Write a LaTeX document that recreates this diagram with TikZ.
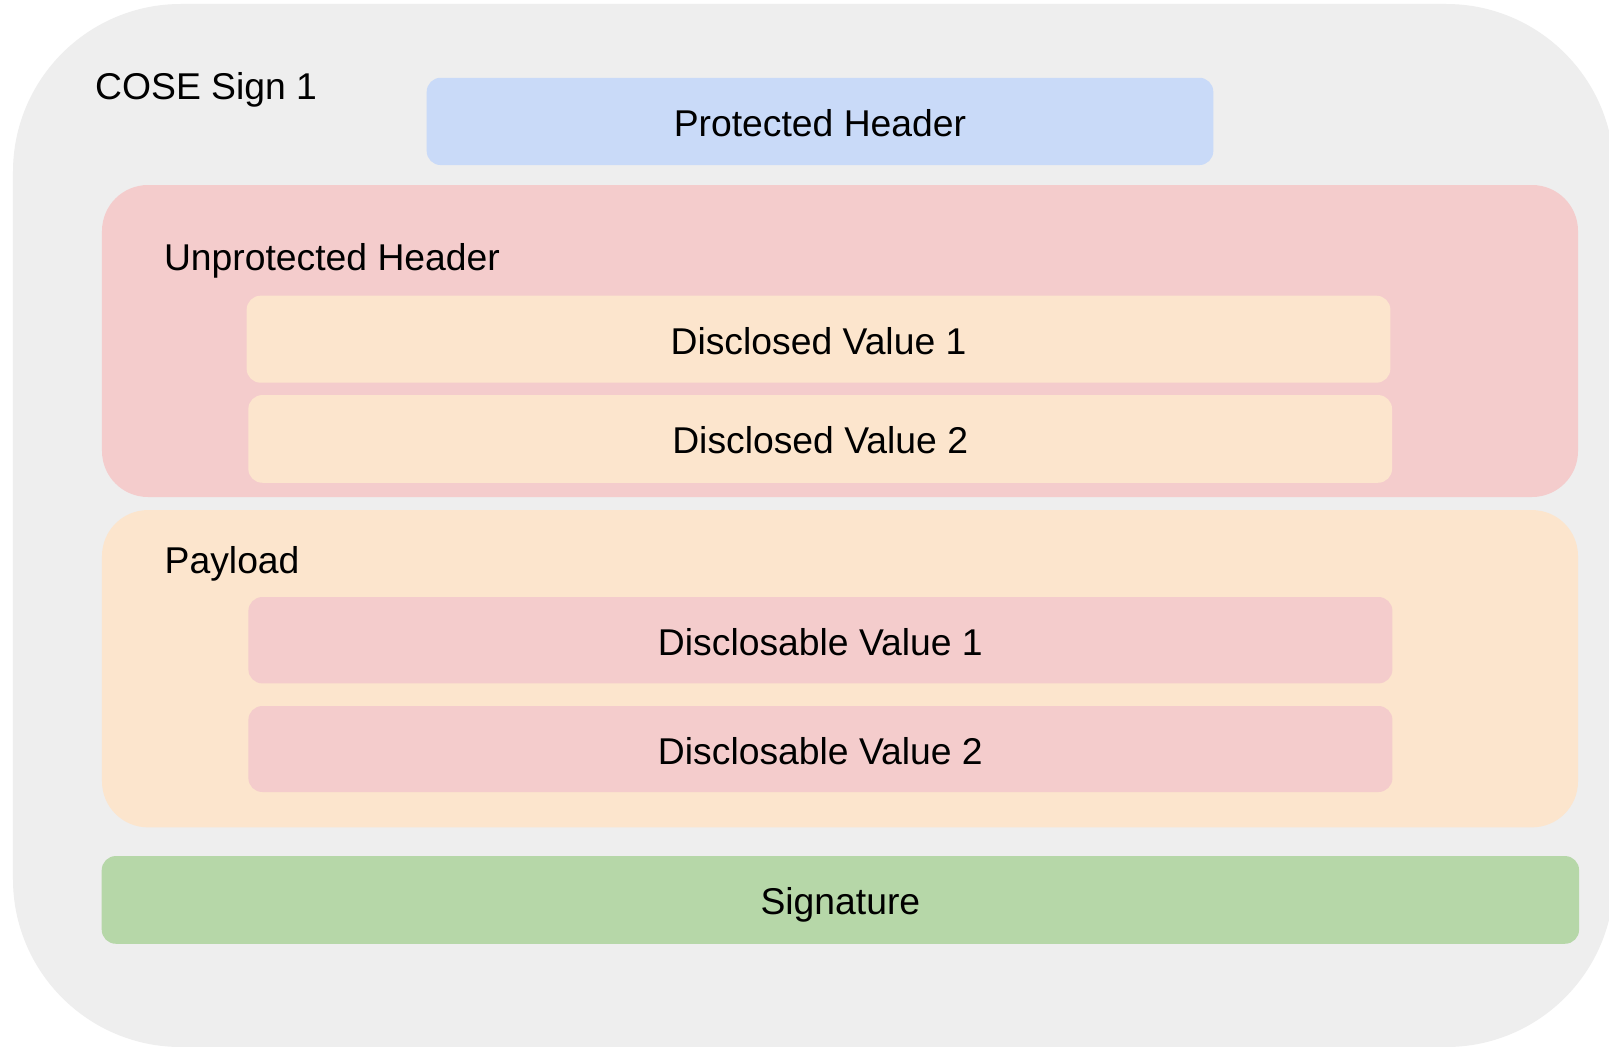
\documentclass[tikz,border=0pt]{standalone}
\usepackage{fontspec}
\setmainfont{Liberation Sans}
\definecolor{cgray}{HTML}{EEEEEE}
\definecolor{cred}{HTML}{F4CCCC}
\definecolor{corange}{HTML}{FCE5CD}
\definecolor{cblue}{HTML}{C9DAF8}
\definecolor{cgreen}{HTML}{B6D7A8}
\begin{document}
\begin{tikzpicture}[x=1bp,y=-1bp,
  panel/.style={draw=none, inner sep=0pt, outer sep=0pt, rectangle},
  boxlbl/.style={panel, rounded corners=14bp, font=\fontsize{37.3bp}{44bp}\selectfont, text height=30bp, text depth=0pt},
  title/.style={anchor=base west, inner sep=0pt, font=\fontsize{37.3bp}{44bp}\selectfont}]
\useasboundingbox (0,0) rectangle (1609,1046);
\fill[white] (0,0) rectangle (1609,1046);
% outer container
\node[panel, fill=cgray, rounded corners=168bp, minimum width=1601bp, minimum height=1043bp] (outer) at (813.5,525.5) {};
\node[title] (cose) at (95,99.3) {COSE Sign 1};
% protected header
\node[boxlbl, fill=cblue, minimum width=786.6bp, minimum height=87.3bp] (prot) at (820,121.4) {Protected Header};
% unprotected header
\node[panel, fill=cred, rounded corners=46bp, minimum width=1476bp, minimum height=312bp] (unprot) at (840,341) {};
\node[title] (unprotlbl) at (163.8,270) {Unprotected Header};
\node[boxlbl, fill=corange, minimum width=1143.7bp, minimum height=87bp] (dv1) at (818.5,339.2) {Disclosed Value 1};
\node[boxlbl, fill=corange, minimum width=1143.7bp, minimum height=87.7bp] (dv2) at (820.2,438.9) {Disclosed Value 2};
% payload
\node[panel, fill=corange, rounded corners=46bp, minimum width=1476bp, minimum height=317.3bp] (payload) at (840,668.7) {};
\node[title] (payloadlbl) at (164.5,573.3) {Payload};
\node[boxlbl, fill=cred, minimum width=1144bp, minimum height=86.4bp] (dsv1) at (820.4,640.2) {Disclosable Value 1};
\node[boxlbl, fill=cred, minimum width=1144bp, minimum height=86bp] (dsv2) at (820.4,749) {Disclosable Value 2};
% signature
\node[boxlbl, fill=cgreen, minimum width=1477.3bp, minimum height=87.7bp] (sig) at (840.4,899.9) {Signature};
\end{tikzpicture}
\end{document}
